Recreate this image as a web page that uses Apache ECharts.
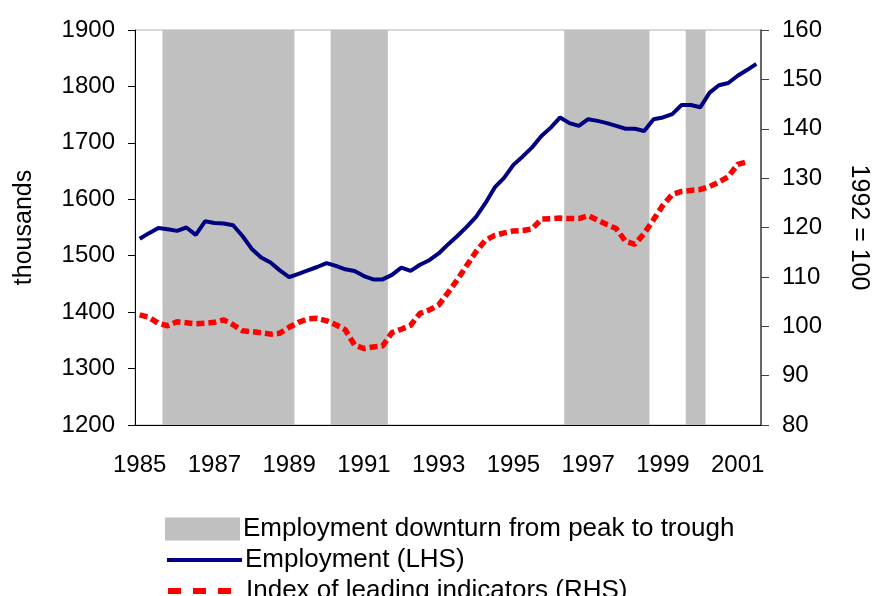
<!DOCTYPE html>
<html>
<head>
<meta charset="utf-8">
<script src="https://cdn.jsdelivr.net/npm/echarts@6/dist/echarts.min.js"></script>
<style>
  html, body { margin: 0; padding: 0; background: #fff; }
  #myChart { width: 876px; height: 596px; }
</style>
</head>
<body>
<div id="myChart"></div>
<script>
// quarters 1985Q1 .. 2001Q3
var quarters = []
for (var y = 1985; y <= 2001; y++) {
  for (var q = 1; q <= 4; q++) {
    if (y === 2001 && q > 3) break
    quarters.push(y + 'Q' + q)
  }
}

// thousands (LHS)
var employment = [
  1530, 1540, 1549, 1547, 1544, 1550, 1537, 1561, 1558, 1557,
  1554, 1535, 1512, 1497, 1488, 1474, 1462, 1468, 1474, 1480,
  1487, 1482, 1476, 1473, 1464, 1458, 1458, 1466, 1479, 1473,
  1484, 1492, 1504, 1520, 1535, 1551, 1569, 1593, 1621, 1638,
  1661, 1676, 1692, 1712, 1727, 1745, 1735, 1730, 1742, 1739,
  1735, 1730, 1725, 1725, 1721, 1742, 1745, 1751, 1767, 1767,
  1763, 1789, 1802, 1806, 1819, 1829, 1840
]

// 1992 = 100 (RHS)
var leading = [
  102.3, 101.8, 100.6, 100.1, 100.9, 100.7, 100.5, 100.6, 100.8, 101.3,
  100.3, 99.1, 98.9, 98.7, 98.4, 98.6, 99.8, 100.8, 101.5, 101.6,
  101.1, 100.3, 99.3, 96.2, 95.5, 95.8, 96.0, 98.7, 99.4, 100.2,
  102.6, 103.3, 104.3, 106.8, 109.4, 112.3, 115.1, 117.4, 118.4, 118.9,
  119.3, 119.4, 119.7, 121.7, 121.8, 121.9, 121.8, 121.8, 122.4, 121.5,
  120.6, 119.8, 117.2, 116.6, 118.8, 121.6, 124.5, 126.7, 127.3, 127.5,
  127.7, 128.3, 129.2, 130.3, 132.8, 133.3
]

// employment downturns, peak to trough (first and last quarter)
var downturns = [
  ['1985Q4', '1989Q1'],
  ['1990Q2', '1991Q3'],
  ['1996Q3', '1998Q3'],
  ['1999Q4', '2000Q1']
]

var leftTicks = { min: 1200, max: 1900, step: 100 }
var rightTicks = { min: 80, max: 160, step: 10 }

var names = [
  'Employment downturn from peak to trough',
  'Employment (LHS)',
  'Index of leading indicators (RHS)'
]

var shade = quarters.map(function (q, i) {
  for (var k = 0; k < downturns.length; k++) {
    if (i >= quarters.indexOf(downturns[k][0]) && i <= quarters.indexOf(downturns[k][1])) return leftTicks.max
  }
  return '-'
})

var font = 'Liberation Sans, Arial, sans-serif'

// one legend per row so nothing wraps at the bottom edge
var legendItems = [
  { name: names[0], icon: 'rect' },
  { name: names[1], itemStyle: { opacity: 0 }, lineStyle: { width: 4 } },
  { name: names[2], itemStyle: { opacity: 0 }, lineStyle: { type: [13, 12], width: 6 } }
]
var legends = legendItems.map(function (item, i) {
  return {
    orient: 'horizontal',
    left: 165,
    top: 516 + i * 31,
    padding: 0,
    itemWidth: 75,
    itemHeight: 23,
    selectedMode: false,
    textStyle: { fontFamily: font, fontSize: 26, color: '#000', padding: [0, 0, 0, -2] },
    data: [item]
  }
})

var myChart = echarts.init(document.getElementById('myChart'))
myChart.setOption({
  animation: false,
  grid: {
    left: 135, right: 115, top: 30, bottom: 171,
    containLabel: false,
    outerBoundsMode: 'none',
    show: true, borderColor: '#b0b0b0', borderWidth: 1
  },
  legend: legends,
  xAxis: {
    type: 'category',
    data: quarters,
    boundaryGap: true,
    axisLine: { lineStyle: { color: '#000', width: 1 } },
    axisTick: { interval: 3, length: 7, lineStyle: { color: '#000' } },
    axisLabel: {
      interval: 7,
      margin: 28,
      fontFamily: font,
      fontSize: 24,
      color: '#000',
      formatter: function (v) { return v.slice(0, 4) }
    },
    splitLine: { show: false }
  },
  yAxis: [
    {
      type: 'value',
      min: leftTicks.min, max: leftTicks.max, interval: leftTicks.step,
      name: 'thousands',
      nameLocation: 'middle',
      nameGap: 98,
      nameTextStyle: { fontFamily: font, fontSize: 25, color: '#000' },
      axisLine: { show: true, lineStyle: { color: '#000' } },
      axisTick: { show: true, length: 7, lineStyle: { color: '#000' } },
      axisLabel: { margin: 20, fontFamily: font, fontSize: 24, color: '#000', formatter: function (v) { return String(v) } },
      splitLine: { show: false }
    },
    {
      type: 'value',
      position: 'right',
      min: rightTicks.min, max: rightTicks.max, interval: rightTicks.step,
      name: '1992 = 100',
      nameLocation: 'middle',
      nameRotate: -90,
      nameGap: 85,
      nameTextStyle: { fontFamily: font, fontSize: 25, color: '#000' },
      axisLine: { show: true, lineStyle: { color: '#404040', width: 1.5 } },
      axisTick: { show: true, length: 8, lineStyle: { color: '#404040' } },
      axisLabel: { margin: 21, fontFamily: font, fontSize: 24, color: '#000', formatter: function (v) { return String(v) } },
      splitLine: { show: false }
    }
  ],
  series: [
    {
      name: names[0],
      type: 'bar',
      yAxisIndex: 0,
      data: shade,
      barWidth: 10.5,
      itemStyle: { color: '#c0c0c0' },
      silent: true
    },
    {
      name: names[1],
      type: 'line',
      yAxisIndex: 0,
      data: employment,
      symbol: 'none',
      itemStyle: { color: '#000080' },
      lineStyle: { color: '#000080', width: 4 },
      z: 3
    },
    {
      name: names[2],
      type: 'line',
      yAxisIndex: 1,
      data: leading,
      symbol: 'none',
      itemStyle: { color: '#ff0000' },
      lineStyle: { color: '#ff0000', width: 5.5, type: [8, 4] },
      z: 4
    }
  ]
})
window.addEventListener('resize', function () {
  myChart.resize()
})
</script>
</body>
</html>
